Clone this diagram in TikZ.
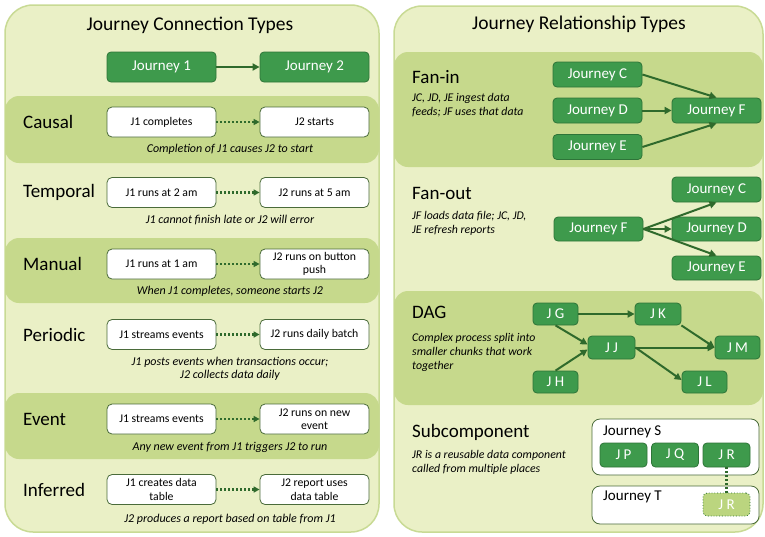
\documentclass[tikz,border=0pt]{standalone}
\usepackage{fontspec}
\setmainfont{Carlito}
\usetikzlibrary{arrows.meta}
\definecolor{panelfill}{HTML}{EAF0C6}
\definecolor{panelline}{HTML}{C8DA94}
\definecolor{bandfill}{HTML}{C6D98C}
\definecolor{dgreen}{HTML}{3E9A4C}
\definecolor{dline}{HTML}{2E7438}
\definecolor{arrowc}{HTML}{2F6A2C}
\definecolor{wline}{HTML}{4A6B3A}
\definecolor{jrfill}{HTML}{BBD57F}
\tikzset{
  panel/.style={draw=panelline, line width=1.5pt, fill=panelfill, rounded corners=28pt},
  band/.style={fill=bandfill, rounded corners=14pt},
  jbox/.style={draw=dline, line width=0.8pt, fill=dgreen, text=white, rounded corners=4pt,
    inner sep=0pt, font=\fontsize{15}{17}\selectfont},
  wbox/.style={draw=wline, line width=0.8pt, fill=white, rounded corners=5pt, inner sep=0pt,
    minimum width=109pt, minimum height=30pt, align=center, font=\fontsize{11.75}{13.5}\selectfont},
  title/.style={font=\fontsize{19.5}{22}\selectfont},
  rowlabel/.style={anchor=west, inner sep=0pt, font=\fontsize{19}{21}\selectfont},
  caption/.style={inner sep=0pt, align=center, font=\fontsize{12}{12.5}\selectfont\itshape},
  desc/.style={anchor=north west, inner sep=0pt, align=left, font=\fontsize{11.8}{14}\selectfont\itshape},
  solidarrow/.style={draw=arrowc, line width=2pt, -{Triangle[length=7pt,width=7pt]}},
  dotarrow/.style={draw=arrowc, line width=2.2pt, dash pattern=on 2pt off 2pt, -{Triangle[length=6pt,width=6pt]}},
}
\begin{document}
\begin{tikzpicture}[x=1pt,y=-1pt]
\useasboundingbox (0,0) rectangle (765,536);
% ---------- left panel ----------
\path[panel] (5,5) rectangle (379,532);
\path[band] (5,96) rectangle (379,163);
\path[band] (5,238) rectangle (379,303);
\path[band] (5,393) rectangle (379,459);
\node[title] (ltitle) at (190,25) {Journey Connection Types};

\node[jbox, minimum width=109pt, minimum height=30pt] (j1) at (161.5,67) {Journey 1};
\node[jbox, minimum width=109pt, minimum height=30pt] (j2) at (314.5,67) {Journey 2};
\draw[solidarrow] (j1) -- (j2);

% Causal
\node[rowlabel] (lcausal) at (23,122) {Causal};
\node[wbox] (ca) at (161.5,122) {J1 completes};
\node[wbox] (cb) at (314.5,122) {J2 starts};
\draw[dotarrow] (ca) -- (cb);
\node[caption] (ccap) at (230,149) {Completion of J1 causes J2 to start};

% Temporal
\node[rowlabel] (ltemp) at (23,192.5) {Temporal};
\node[wbox] (ta) at (161.5,192.5) {J1 runs at 2 am};
\node[wbox] (tb) at (314.5,192.5) {J2 runs at 5 am};
\draw[dotarrow] (ta) -- (tb);
\node[caption] (tcap) at (230,220) {J1 cannot finish late or J2 will error};

% Manual
\node[rowlabel] (lman) at (23,264) {Manual};
\node[wbox] (ma) at (161.5,264) {J1 runs at 1 am};
\node[wbox] (mb) at (314.5,264) {J2 runs on button\\push};
\draw[dotarrow] (ma) -- (mb);
\node[caption] (mcap) at (230,291) {When J1 completes, someone starts J2};

% Periodic
\node[rowlabel] (lper) at (23,334.5) {Periodic};
\node[wbox] (pa) at (161.5,334.5) {J1 streams events};
\node[wbox] (pb) at (314.5,334.5) {J2 runs daily batch};
\draw[dotarrow] (pa) -- (pb);
\node[caption] (pcap) at (230,369) {J1 posts events when transactions occur;\\J2 collects data daily};

% Event
\node[rowlabel] (lev) at (23,419) {Event};
\node[wbox] (ea) at (161.5,419) {J1 streams events};
\node[wbox] (eb) at (314.5,419) {J2 runs on new\\event};
\draw[dotarrow] (ea) -- (eb);
\node[caption] (ecap) at (230,447) {Any new event from J1 triggers J2 to run};

% Inferred
\node[rowlabel] (linf) at (23,489.5) {Inferred};
\node[wbox] (ia) at (161.5,489.5) {J1 creates data\\table};
\node[wbox] (ib) at (314.5,489.5) {J2 report uses\\data table};
\draw[dotarrow] (ia) -- (ib);
\node[caption] (icap) at (230,519) {J2 produces a report based on table from J1};

% ---------- right panel ----------
\path[panel] (394,6) rectangle (763,532);
\path[band] (394,52) rectangle (763,167);
\path[band] (394,291) rectangle (763,405);
\node[title] (rtitle) at (579,24) {Journey Relationship Types};

% Fan-in
\node[rowlabel] (lfanin) at (412,77) {Fan-in};
\node[desc] (dfanin) at (412,93) {JC, JD, JE ingest data\\feeds; JF uses that data};
\node[jbox, minimum width=89pt, minimum height=25pt] (fic) at (597.5,74.5) {Journey C};
\node[jbox, minimum width=89pt, minimum height=25pt] (fid) at (597.5,110.5) {Journey D};
\node[jbox, minimum width=89pt, minimum height=25pt] (fie) at (597.5,147) {Journey E};
\node[jbox, minimum width=89pt, minimum height=25pt] (fif) at (716.5,110.5) {Journey F};
\draw[solidarrow] (fic.east) -- (fif.north);
\draw[solidarrow] (fid.east) -- (fif.west);
\draw[solidarrow] (fie.east) -- (fif.south);

% Fan-out
\node[rowlabel] (lfanout) at (412,193) {Fan-out};
\node[desc] (dfanout) at (412,211) {JF loads data file; JC, JD,\\JE refresh reports};
\node[jbox, minimum width=89pt, minimum height=24pt] (fof) at (598.5,229) {Journey F};
\node[jbox, minimum width=89pt, minimum height=25pt] (foc) at (716.5,189.5) {Journey C};
\node[jbox, minimum width=89pt, minimum height=24pt] (fod) at (716.5,229) {Journey D};
\node[jbox, minimum width=89pt, minimum height=24pt] (foe) at (716.5,268) {Journey E};
\draw[solidarrow] (fof.east) -- (foc.south);
\draw[solidarrow] (fof.east) -- (fod.west);
\draw[solidarrow] (fof.east) -- (foe.north);

% DAG
\node[rowlabel] (ldag) at (412,312) {DAG};
\node[desc] (ddag) at (412,333) {Complex process split into\\smaller chunks that work\\together};
\node[jbox, minimum width=45pt, minimum height=22pt] (jg) at (555.5,314) {J G};
\node[jbox, minimum width=46pt, minimum height=22pt] (jk) at (658,314) {J K};
\node[jbox, minimum width=47pt, minimum height=23pt] (jj) at (611.5,347.5) {J J};
\node[jbox, minimum width=45pt, minimum height=23pt] (jm) at (737.5,347.5) {J M};
\node[jbox, minimum width=45pt, minimum height=22pt] (jh) at (555.5,382) {J H};
\node[jbox, minimum width=45pt, minimum height=22pt] (jl) at (704.5,382) {J L};
\draw[solidarrow] (jg.east) -- (jk.west);
\draw[solidarrow] (jg.south) -- ([yshift=3pt]jj.west);
\draw[solidarrow] (jh.north) -- ([yshift=-2pt]jj.west);
\draw[solidarrow] (jk.south east) -- (jm.west);
\draw[solidarrow] (jj.east) -- (jm.west);
\draw[solidarrow] (jj.east) -- ([yshift=2pt]jl.west);

% Subcomponent
\node[rowlabel] (lsub) at (412,432) {Subcomponent};
\node[desc] (dsub) at (412,450) {JR is a reusable data component\\called from multiple places};
\draw[draw=wline, line width=0.8pt, fill=white, rounded corners=8pt] (592,419) rectangle (759,475);
\node[anchor=west, inner sep=0pt, font=\fontsize{15}{17}\selectfont] (js) at (603,432) {Journey S};
\node[jbox, minimum width=47pt, minimum height=24pt] (jp) at (623.5,455) {J P};
\node[jbox, minimum width=47pt, minimum height=24pt] (jq) at (675,455) {J Q};
\node[jbox, minimum width=47pt, minimum height=24pt] (jr) at (726.5,455) {J R};
\draw[draw=wline, line width=0.8pt, fill=white, rounded corners=8pt] (592,486) rectangle (759,524);
\node[anchor=west, inner sep=0pt, font=\fontsize{15}{17}\selectfont] (jt) at (603,497) {Journey T};
\node[jbox, draw=dline, dotted, fill=jrfill, minimum width=47pt, minimum height=23pt] (jr2) at (726.5,504.5) {J R};
\draw[draw=arrowc, line width=2.2pt, dash pattern=on 2pt off 2pt] (jr.south) -- (jr2.north);
\end{tikzpicture}
\end{document}
